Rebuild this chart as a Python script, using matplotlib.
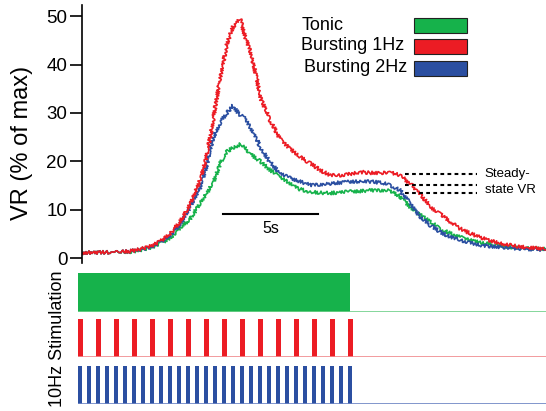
import numpy as np
import matplotlib
matplotlib.use("Agg")
import matplotlib.pyplot as plt
from matplotlib.patches import Rectangle

plt.rcParams['font.family'] = ['Liberation Sans', 'DejaVu Sans']

# time after stimulation onset (s)
t = [0.22, 1.78, 2.89, 3.44, 4.0, 4.56, 5.11, 5.67, 6.22, 6.78, 7.17, 7.5, 7.89,
     8.28, 8.61, 9.0, 9.28, 9.56, 9.94, 10.11, 10.67, 11.22, 11.78, 12.33, 12.89,
     13.44, 14.0, 14.56, 15.11, 15.67, 16.22, 16.78, 17.33, 17.89, 18.44, 19.0,
     19.56, 20.11, 20.67, 21.22, 21.78, 22.33, 23.44, 24.56, 26.0]

# VR (% of max)
vr_tonic = [1.1, 1.2, 1.3, 1.6, 2.1, 3.0, 4.1, 6.3, 8.0, 11.3, 13.5, 15.5, 19.5,
            22.0, 22.8, 23.5, 23.0, 21.5, 20.5, 20.0, 18.2, 16.8, 15.4, 14.2, 13.7,
            13.5, 13.4, 13.6, 13.7, 13.8, 14.0, 14.0, 14.0, 12.7, 10.6, 8.9,
            7.5, 6.1, 5.1, 4.3, 3.7, 3.2, 2.5, 2.1, 1.9]
vr_burst1 = [1.1, 1.2, 1.4, 1.8, 2.4, 3.4, 5.1, 7.5, 11.0, 16.1, 21.5, 28.5, 37.0,
             44.4, 47.8, 49.5, 45.7, 43.0, 37.0, 33.3, 28.5, 24.6, 22.6, 20.9, 19.6,
             18.2, 17.1, 17.1, 17.4, 17.8, 17.6, 17.5, 17.7, 17.1, 15.4, 13.4,
             10.6, 9.2, 7.5, 6.1, 5.1, 4.3, 3.0, 2.3, 1.9]
vr_burst2 = [1.1, 1.2, 1.4, 1.7, 2.2, 3.2, 4.7, 7.0, 10.5, 14.5, 19.5, 24.8, 28.0,
             30.0, 31.5, 29.5, 29.0, 27.0, 24.5, 23.0, 19.8, 17.5, 16.5, 15.8, 15.1,
             15.2, 15.4, 15.6, 15.8, 15.8, 15.8, 15.6, 15.1, 14.0, 11.3, 8.5,
             6.8, 5.4, 4.4, 3.7, 3.2, 2.7, 2.2, 1.9, 1.7]

steady = [17.3, 15.1, 13.5]  # red, blue, green steady-state levels

stim_dur = 15.0
tonic_hz = 10.0
burst1_hz = 1.0
burst2_hz = 2.0

green = '#16b24b'
red = '#ec1c24'
blue = '#2b4fa1'

fig = plt.figure(figsize=(5.46, 4.11), dpi=100)

# main VR panel
ax = fig.add_axes([82 / 546, 1 - 263 / 411, 464 / 546, 258 / 411])
for y, c in [(vr_tonic, green), (vr_burst2, blue), (vr_burst1, red)]:
    ln, = ax.plot(t, y, color=c, lw=1.2)
    ln.set_sketch_params(1.7, 2.0, 2.0)
ax.set_xlim(0.22, 26.0)
ax.set_ylim(-1.03, 52.3)
ax.set_yticks([0, 10, 20, 30, 40, 50])
ax.tick_params(axis='y', length=9, width=1.2, pad=1.5, labelsize=13.5)
ax.set_xticks([])
for s in ['top', 'right', 'bottom']:
    ax.spines[s].set_visible(False)
ax.spines['left'].set_linewidth(1.2)

# steady-state markers
for lvl in steady:
    ax.plot([18.17, 22.17], [lvl, lvl], color='black', lw=1.5,
            dashes=(1.8, 1.6))
ax.text(22.6, 17.4, 'Steady-', fontsize=9.5, va='center', ha='left')
ax.text(22.6, 14.0, 'state VR', fontsize=9.5, va='center', ha='left')

# scale bar
ax.plot([8.06, 13.33], [9.1, 9.1], color='black', lw=1.5)
ax.text(10.7, 6.2, '5s', fontsize=11.5, ha='center', va='center')

fig.text(22 / 546, 1 - 143 / 411, 'VR (% of max)', rotation=90,
         fontsize=17, ha='center', va='center')

# legend
legend = [('Tonic', green, 302, 18.3, 26),
          ('Bursting 1Hz', red, 301, 39, 46),
          ('Bursting 2Hz', blue, 304, 61, 68)]
for name, c, tx, by, ty in legend:
    fig.text(tx / 546, 1 - ty / 411, name, fontsize=13, ha='left', va='center')
    fig.add_artist(Rectangle((414 / 546, 1 - (by + 15) / 411), 53 / 546, 15 / 411,
                             facecolor=c, edgecolor='#222222', lw=0.8,
                             transform=fig.transFigure))

# stimulation panels
panels = [(273, 312, green, np.arange(0, stim_dur + 0.01, 1 / tonic_hz), 0.096, '#6fcf8a'),
          (319, 357, red, np.arange(0, stim_dur + 0.01, 1 / burst1_hz), 0.28, '#f08a8e'),
          (366, 404, blue, np.arange(0, stim_dur + 0.01, 1 / burst2_hz), 0.22, '#6c84c4')]
for top, bot, c, onsets, w, base in panels:
    sax = fig.add_axes([78 / 546, 1 - bot / 411, 468 / 546, (bot - top) / 411])
    sax.bar(onsets, np.ones(len(onsets)), width=w, align='edge', color=c,
            linewidth=0)
    sax.plot([0, 26.0], [0.01, 0.01], color=base, lw=1.2)
    sax.set_xlim(0, 26.0)
    sax.set_ylim(0, 1)
    sax.axis('off')

fig.text(57 / 546, 1 - 339 / 411, '10Hz Stimulation', rotation=90,
         fontsize=13, ha='center', va='center')

fig.savefig('out.png', dpi=100)
